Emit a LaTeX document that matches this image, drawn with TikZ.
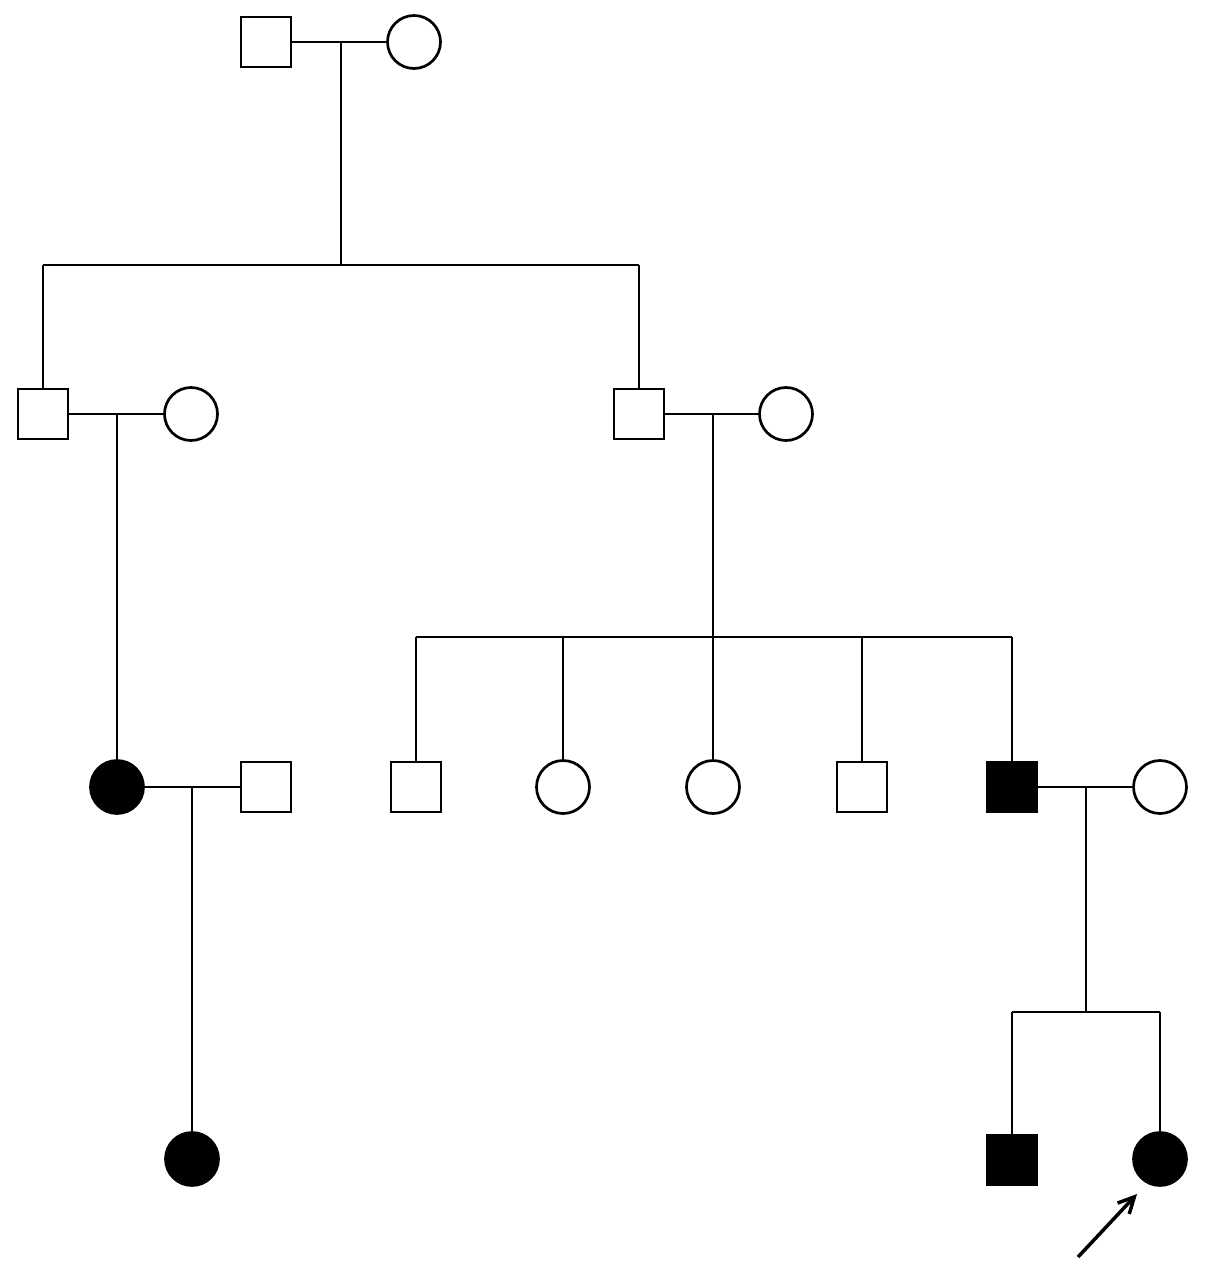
\documentclass[tikz,border=0pt]{standalone}
\usetikzlibrary{arrows.meta}
\begin{document}
\begin{tikzpicture}[x=1pt,y=-1pt,line width=2.7pt,
  male/.style={draw,rectangle,minimum size=50pt,inner sep=0pt,fill=white},
  female/.style={draw,circle,minimum size=53pt,inner sep=0pt,fill=white},
  aff/.style={fill=black}]
\useasboundingbox (0,0) rectangle (1205,1273);
% Generation I
\node[male] (I1) at (266,42) {};
\node[female] (I2) at (414,42) {};
% Generation II
\node[male] (II1) at (43,414) {};
\node[female] (II2) at (191,414) {};
\node[male] (II3) at (639,414) {};
\node[female] (II4) at (786,414) {};
% Generation III
\node[female,aff] (III1) at (117,787) {};
\node[male] (III2) at (266,787) {};
\node[male] (III3) at (416,787) {};
\node[female] (III4) at (563,787) {};
\node[female] (III5) at (713,787) {};
\node[male] (III6) at (862,787) {};
\node[male,aff] (III7) at (1012,787) {};
\node[female] (III8) at (1160,787) {};
% Generation IV
\node[female,aff] (IV1) at (192,1159) {};
\node[male,aff] (IV2) at (1012,1160) {};
\node[female,aff] (IV3) at (1160,1159) {};
% coordinates
\coordinate (m1) at (341,42);
\coordinate (s1) at (341,265);
\coordinate (s1l) at (43,265);
\coordinate (s1r) at (639,265);
\coordinate (m2) at (117,414);
\coordinate (m3) at (713,414);
\coordinate (s3) at (713,637);
\coordinate (s3l) at (416,637);
\coordinate (s3r) at (1012,637);
\coordinate (s3b) at (563,637);
\coordinate (s3d) at (862,637);
\coordinate (m4) at (192,787);
\coordinate (m5) at (1086,787);
\coordinate (s5) at (1086,1012);
\coordinate (s5l) at (1012,1012);
\coordinate (s5r) at (1160,1012);
\coordinate (ar) at (1078,1257);
\coordinate (at) at (1137,1194);
% marriages
\draw (I1.east) -- (I2.west);
\draw (II1.east) -- (II2.west);
\draw (II3.east) -- (II4.west);
\draw (III1.east) -- (III2.west);
\draw (III7.east) -- (III8.west);
% descent
\draw (m1) -- (s1);
\draw (s1l) -- (s1r);
\draw (s1l) -- (II1.north);
\draw (s1r) -- (II3.north);
\draw (m2) -- (III1.north);
\draw (m3) -- (s3);
\draw (s3l) -- (s3r);
\draw (s3l) -- (III3.north);
\draw (s3b) -- (III4.north);
\draw (s3) -- (III5.north);
\draw (s3d) -- (III6.north);
\draw (s3r) -- (III7.north);
\draw (m4) -- (IV1.north);
\draw (m5) -- (s5);
\draw (s5l) -- (s5r);
\draw (s5l) -- (IV2.north);
\draw (s5r) -- (IV3.north);
% proband arrow
\draw[line width=3.5pt,-{Straight Barb[length=16pt,width=16pt]}] (ar) -- (at);
\end{tikzpicture}
\end{document}
